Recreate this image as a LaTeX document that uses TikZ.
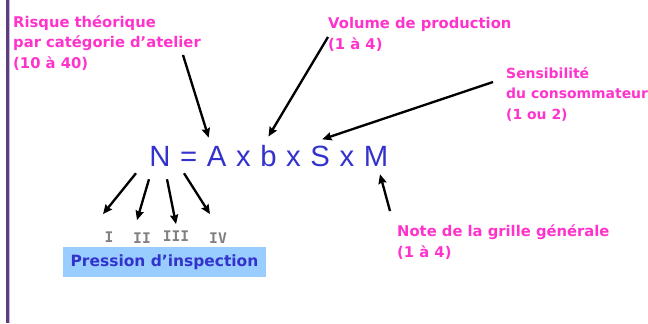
\documentclass[tikz,border=0pt]{standalone}
\usepackage{fontspec}
\setmainfont{DejaVu Sans}
\newfontfamily\formulafont{Liberation Sans}
\newfontfamily\numfont{DejaVu Sans Mono}
\usetikzlibrary{arrows.meta, positioning}
\definecolor{rose}{HTML}{FF33CC}
\definecolor{indigo2}{HTML}{3333CC}
\definecolor{boxblue}{HTML}{99CCFF}
\definecolor{greytxt}{HTML}{808080}
\definecolor{plum}{HTML}{5A3E7E}
\definecolor{lilac}{HTML}{C9B3E3}
\tikzset{
  note/.style={font=\bfseries\fontsize{12.6}{17.4}\selectfont, text=rose, align=left,
    inner sep=0pt, anchor=base west},
  sym/.style={font=\formulafont\fontsize{25}{30}\selectfont, text=indigo2, inner sep=0pt},
  roman/.style={font=\numfont\bfseries\fontsize{12.5}{15}\selectfont, text=greytxt,
    inner sep=0pt, anchor=base},
  pressure/.style={fill=boxblue, text=indigo2, font=\bfseries\fontsize{13.2}{15}\selectfont,
    minimum width=172.6pt, minimum height=25.5pt, inner sep=0pt},
  arrow/.style={-{Stealth[length=8pt, width=7pt, inset=1pt]}, line width=2pt, black},
}

\begin{document}
\begin{tikzpicture}[x=0.03cm, y=-0.03cm, node distance=7.8pt]
\useasboundingbox (0,0) rectangle (648,323);
% left rule
\fill[plum] (6,0) rectangle (9,323);
\fill[lilac] (9,0) rectangle (10,323);

% formula N = A x b x S x M
\node[sym, anchor=base] (N) at (160,166) {N};
\node[sym, base right=of N] (eq) {=};
\node[sym, base right=of eq] (A) {A};
\node[sym, base right=of A] (x1) {x};
\node[sym, base right=of x1] (b) {b};
\node[sym, base right=of b] (x2) {x};
\node[sym, base right=of x2] (S) {S};
\node[sym, base right=of S] (x3) {x};
\node[sym, base right=of x3] (M) {M};

% factor notes (anchored on the last line)
\node[note] (risk) at (13,68) {Risque théorique\\par catégorie d’atelier\\(10 à 40)};
\node[note] (volume) at (328,49) {Volume de production\\(1 à 4)};
\node[note, font=\bfseries\fontsize{11.9}{17.4}\selectfont] (sensi) at (506,119)
  {Sensibilité\\du consommateur\\(1 ou 2)};
\node[note] (grid) at (397,257) {Note de la grille générale\\(1 à 4)};
\coordinate (riskfoot) at (183,55);
\coordinate (volumefoot) at (328,37);
\coordinate (sensifoot) at (493,82);
\coordinate (gridfoot) at (390,211);

\draw[arrow] (riskfoot) -- ([shift={(-8,-8)}]A.north);
\draw[arrow] (volumefoot) -- ([shift={(0,-8)}]b.north);
\draw[arrow] (sensifoot) -- ([shift={(2,-6)}]S.north);
\draw[arrow] (gridfoot) -- ([shift={(4,8)}]M.south);

% inspection levels
\node[roman] (I) at (109,242) {I};
\node[roman] (II) at (142,243) {II};
\node[roman] (III) at (176,241) {III};
\node[roman] (IV) at (218,243) {IV};
\node[pressure] (press) at (164.5,262) {Pression d’inspection};

\draw[arrow] ([shift={(-24,7)}]N.south) -- ([shift={(-6,-17)}]I.north);
\draw[arrow] ([shift={(-11,13)}]N.south) -- ([shift={(-5,-12)}]II.north);
\draw[arrow] ([shift={(7,13)}]N.south) -- ([shift={(0,-6)}]III.north);
\draw[arrow] ([shift={(24,7)}]N.south) -- ([shift={(-8,-18)}]IV.north);
\end{tikzpicture}
\end{document}
